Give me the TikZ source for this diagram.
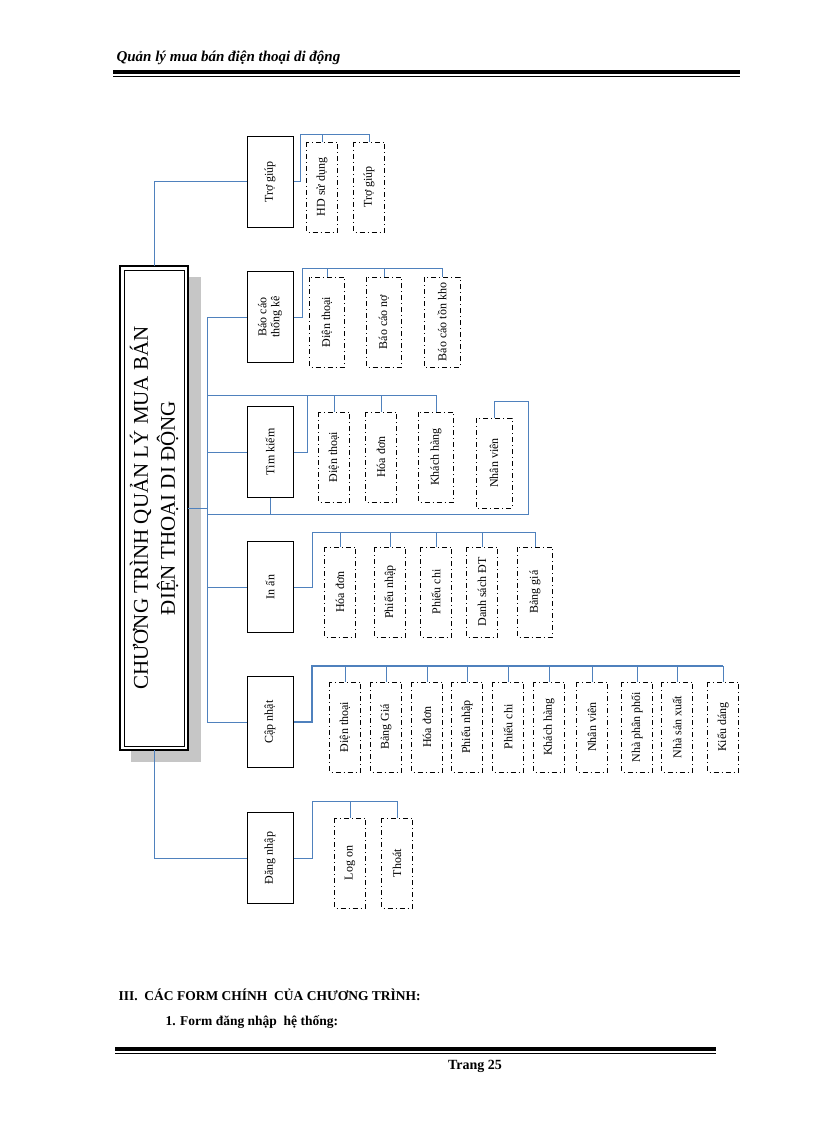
\documentclass[tikz,border=0pt]{standalone}
\usepackage{fontspec}
\setmainfont{Liberation Serif}
\begin{document}
\begin{tikzpicture}[x=1pt,y=-1pt,
  bl/.style={draw={rgb,255:red,79;green,129;blue,189},line width=1pt},
  lbox/.style={draw,line width=1pt,rotate=90,font=\fontsize{12}{13}\selectfont,align=center,minimum width=91pt,minimum height=46pt,inner sep=1pt},
  cbox/.style={draw,line width=0.8pt,dash pattern=on 5pt off 3pt on 1pt off 3pt,rotate=90,font=\fontsize{12}{12}\selectfont,minimum width=90pt,minimum height=31pt,inner sep=1pt}]
\useasboundingbox (0,0) rectangle (816,1123);
% header/footer
\node[anchor=west,font=\bfseries\itshape\fontsize{15}{16}\selectfont] (hdr) at (113,58) {Quản lý mua bán điện thoại di động};
\fill (113,70) rectangle (740,74);
\draw[line width=0.5pt] (113,76) -- (740,76);
\fill (115,1047) rectangle (716,1051);
\draw[line width=0.5pt] (115,1053) -- (716,1053);
\node[font=\bfseries\fontsize{14}{15}\selectfont] (pg) at (475,1066) {Trang 25};
\node[anchor=west,font=\bfseries\fontsize{13.5}{15}\selectfont] (t3) at (115,995) {III.\ \ CÁC FORM CHÍNH \ CỦA CHƯƠNG TRÌNH:};
\node[anchor=west,font=\bfseries\fontsize{13.5}{15}\selectfont] (t4) at (162,1022) {1. Form đăng nhập \ hệ thống:};
% main
\fill[gray!45] (131,277) rectangle (201,762);
\draw[line width=1.8pt,fill=white] (120,266) rectangle (188,750);
\draw[line width=0.6pt] (124,270) rectangle (184,746);
\node[rotate=90,align=center,font=\fontsize{21}{27}\selectfont] (main) at (154,508) {CHƯƠNG TRÌNH QUẢN LÝ MUA BÁN\\ĐIỆN THOẠI DI ĐỘNG};
% level 1
\node[lbox] (tg) at (270,182) {Trợ giúp};
\node[lbox] (bc) at (270,317) {Báo cáo\\thống kê};
\node[lbox] (tk) at (270,452) {Tìm kiếm};
\node[lbox] (ia) at (270,587) {In ấn};
\node[lbox] (cn) at (270,722) {Cập nhật};
\node[lbox] (dn) at (270,858) {Đăng nhập};
% main connectors
\draw[bl] (154,266) -- (154,182) -- (tg.north);
\draw[bl] (154,750) -- (154,858) -- (dn.north);
\draw[bl] (188,508) -- (207,508);
\draw[bl] (207,317) -- (207,722);
\draw[bl] (207,317) -- (bc.north);
\draw[bl] (207,452) -- (tk.north);
\draw[bl] (207,587) -- (ia.north);
\draw[bl] (207,722) -- (cn.north);
\draw[bl] (207,395) -- (307,395);
% Tro giup children
\node[cbox] (tg1) at (322,187) {HD sử dụng};
\node[cbox] (tg2) at (369,187) {Trợ giúp};
\draw[bl] (tg.south) -- (300,182) -- (300,135) -- (369,135) -- (tg2.east);
\draw[bl] (322,135) -- (tg1.east);
% Bao cao children
\node[cbox,minimum height=35pt] (bc1) at (327,322) {Điện thoại};
\node[cbox,minimum height=35pt] (bc2) at (384,322) {Báo cáo nợ};
\node[cbox,minimum height=36pt] (bc3) at (442,322) {Báo cáo tồn kho};
\draw[bl] (bc.south) -- (302,317) -- (302,268) -- (442,268) -- (bc3.east);
\draw[bl] (327,268) -- (bc1.east);
\draw[bl] (384,268) -- (bc2.east);
% Tim kiem children
\node[cbox] (tk1) at (334,457) {Điện thoại};
\node[cbox] (tk2) at (381,457) {Hóa đơn};
\node[cbox,minimum height=35pt] (tk3) at (436,457) {Khách hàng};
\node[cbox,minimum height=36pt] (tk4) at (494,463) {Nhân viên};
\draw[bl] (tk.south) -- (307,452) -- (307,395) -- (436,395) -- (tk3.east);
\draw[bl] (334,395) -- (tk1.east);
\draw[bl] (381,395) -- (tk2.east);
\draw[bl] (tk.west) -- (270,514);
\draw[bl] (207,514) -- (528,514) -- (528,401) -- (494,401) -- (tk4.east);
\draw[bl] (207,508) -- (207,514);
% In an children
\node[cbox] (ia1) at (340,592) {Hóa đơn};
\node[cbox] (ia2) at (390,592) {Phiếu nhập};
\node[cbox] (ia3) at (436,592) {Phiếu chi};
\node[cbox] (ia4) at (482,592) {Danh sách ĐT};
\node[cbox,minimum height=35pt] (ia5) at (535,592) {Bảng giá};
\draw[bl] (ia.south) -- (312,587) -- (312,532) -- (535,532) -- (ia5.east);
\foreach \n/\x in {ia1/340,ia2/390,ia3/436,ia4/482} \draw[bl] (\x,532) -- (\n.east);
% Cap nhat children
\foreach \n/\x/\t in {c1/345/Điện thoại,c2/386/Bảng Giá,c3/427/Hóa đơn,c4/467/Phiếu nhập,c5/508/Phiếu chi,c6/549/Khách hàng,c7/592/Nhân viên,c8/637/Nhà phân phối,c9/677/Nhà sản xuất,c10/723/Kiểu dáng}{
  \node[cbox] (\n) at (\x,727) {\t};
  \draw[bl] (\x,666) -- (\n.east);}
\draw[bl,line width=1.4pt] (cn.south) -- (312,722) -- (312,666) -- (723,666);
% Dang nhap children
\node[cbox] (d1) at (350,863) {Log on};
\node[cbox] (d2) at (397,863) {Thoát};
\draw[bl] (dn.south) -- (312,858) -- (312,801) -- (397,801) -- (d2.east);
\draw[bl] (350,801) -- (d1.east);
\end{tikzpicture}
\end{document}
